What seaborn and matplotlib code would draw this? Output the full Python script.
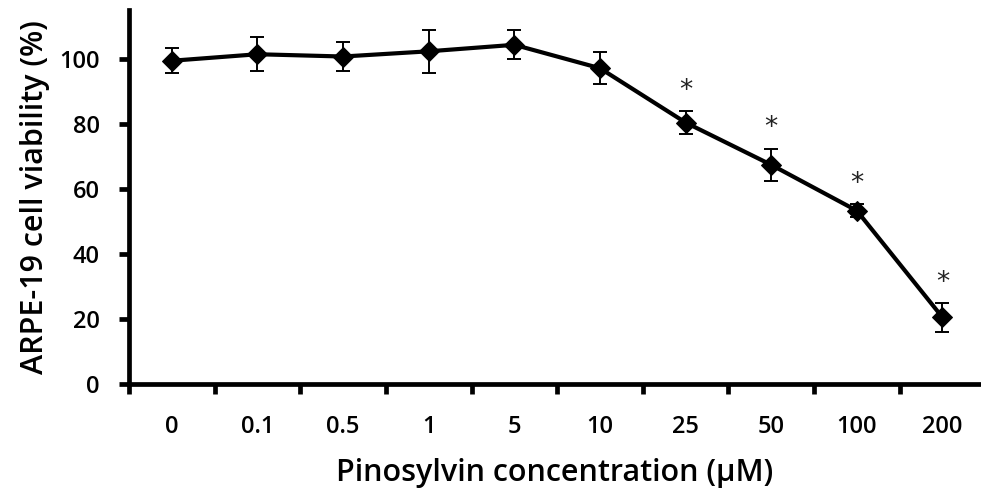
import matplotlib
matplotlib.use("Agg")
import matplotlib.pyplot as plt
import seaborn as sns
import numpy as np
import pandas as pd

concentrations = ["0", "0.1", "0.5", "1", "5", "10", "25", "50", "100", "200"]
viability = [99.4, 101.4, 100.7, 102.3, 104.3, 97.1, 80.4, 67.4, 53.3, 20.5]
sd = [3.9, 5.3, 4.5, 6.7, 4.5, 5.0, 3.6, 5.0, 2.0, 4.4]
significant = [False, False, False, False, False, False, True, True, True, True]

sns.set_theme(style="white")
plt.rcParams["font.family"] = ["Open Sans", "DejaVu Sans"]
plt.rcParams["text.color"] = "black"
plt.rcParams["axes.labelcolor"] = "black"
plt.rcParams["xtick.color"] = "black"
plt.rcParams["ytick.color"] = "black"

df = pd.DataFrame({"pos": np.arange(len(concentrations)), "viability": viability, "sd": sd})

fig = plt.figure(figsize=(9.81, 4.88), dpi=100)
ax = fig.add_axes([0.1315, 0.213, 0.8685, 0.7665])

ax.errorbar(df["pos"], df["viability"], yerr=df["sd"], fmt="none",
            ecolor="black", elinewidth=1.4, capsize=5, capthick=1.4, zorder=2)
sns.lineplot(data=df, x="pos", y="viability", ax=ax, color="black",
             linewidth=3, marker="D", markersize=10, markeredgecolor="black",
             markerfacecolor="black", zorder=3)

for p, v, e, s in zip(df["pos"], viability, sd, significant):
    if s:
        ax.text(p, v + e + 6.2, "*", ha="center", va="center", fontsize=19,
                family="DejaVu Sans", color="#222222")

ax.set_xlim(-0.5, 9.45)
ax.set_ylim(0, 115)
ax.set_yticks([0, 20, 40, 60, 80, 100])
ax.set_xticks(df["pos"])
ax.set_xticklabels(concentrations)
ax.set_xticks(np.arange(-0.5, 9, 1.0), minor=True)

for side in ["top", "right"]:
    ax.spines[side].set_visible(False)
for side in ["left", "bottom"]:
    ax.spines[side].set_linewidth(3.4)
    ax.spines[side].set_color("black")

ax.tick_params(axis="x", which="major", length=0, pad=22, labelsize=17)
ax.tick_params(axis="x", which="minor", bottom=True, length=7, width=3.4, direction="out", color="black")
ax.tick_params(axis="y", which="major", left=True, length=7, width=3.4, direction="out",
               labelsize=17, pad=14, color="black")
for lbl in ax.get_xticklabels() + ax.get_yticklabels():
    lbl.set_fontweight("semibold")

ax.set_xlabel("Pinosylvin concentration (\u00b5M)", fontsize=22, fontweight="semibold", labelpad=14)
ax.set_ylabel("ARPE-19 cell viability (%)", fontsize=22, fontweight="semibold", labelpad=7)

fig.savefig("out.png", dpi=100)
